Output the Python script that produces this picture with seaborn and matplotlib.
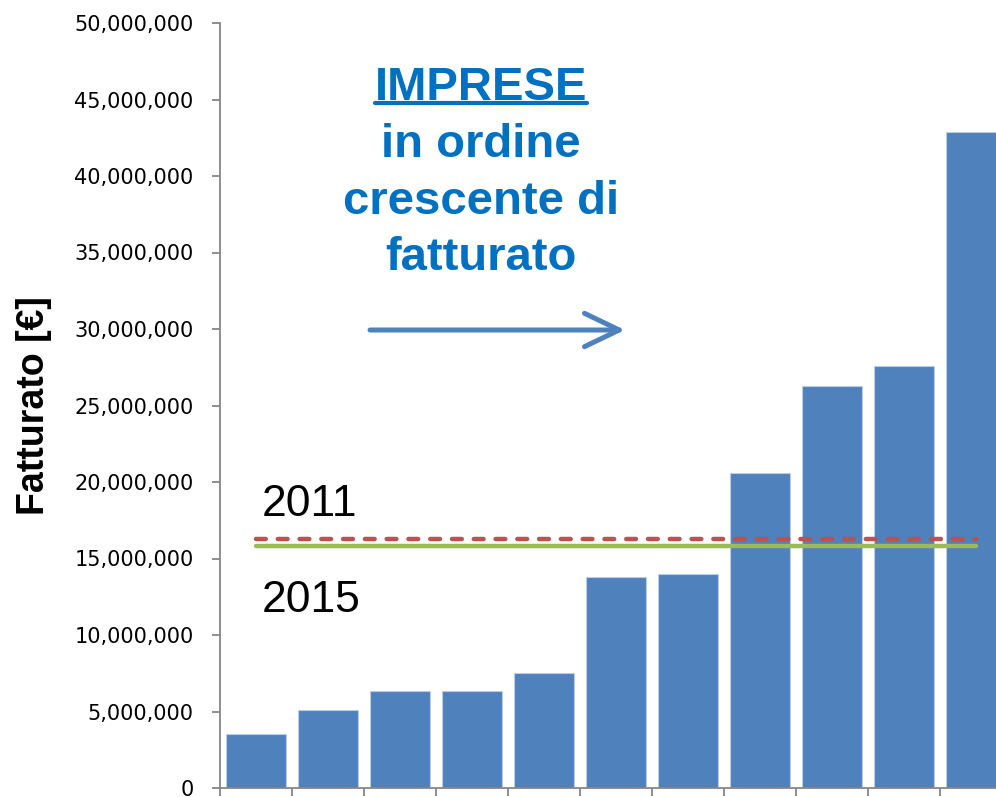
import matplotlib
matplotlib.use("Agg")
import matplotlib.pyplot as plt
import matplotlib.ticker as mticker
from matplotlib.lines import Line2D
import seaborn as sns
import pandas as pd
import numpy as np

# dati
imprese = ["A", "B", "C", "D", "E", "F", "G", "H", "I", "J", "K"]
fatturato = [3.53e6, 5.10e6, 6.34e6, 6.36e6, 7.52e6, 13.80e6, 14.00e6,
             20.57e6, 26.30e6, 27.60e6, 42.86e6]
media_2011 = [16.27e6] * len(imprese)
media_2015 = [15.83e6] * len(imprese)
yticks = np.arange(0, 50_000_001, 5_000_000)

df = pd.DataFrame({"impresa": imprese, "fatturato": fatturato})
df_lines = pd.DataFrame({"impresa": imprese, "m2011": media_2011, "m2015": media_2015})

sns.set_style("white")
plt.rcParams["font.family"] = ["DejaVu Sans"]

fig = plt.figure(figsize=(9.96, 7.97), dpi=100)
ax = fig.add_axes([220 / 996, 9 / 797, 792 / 996, 765 / 797])

sns.barplot(data=df, x="impresa", y="fatturato", color="#4F81BD", width=0.82,
            edgecolor="#b9cde5", linewidth=0.8, saturation=1, ax=ax)

sns.lineplot(data=df_lines, x="impresa", y="m2015", color="#9BBB59", lw=3.2,
             solid_capstyle="round", sort=False, ax=ax)
sns.lineplot(data=df_lines, x="impresa", y="m2011", color="#C0504D", lw=3.2,
             dashes=False, ax=ax, sort=False)
ax.lines[-1].set_dashes((2.2, 2.7))
ax.lines[-1].set_dash_capstyle("round")

ax.set_xlim(-0.5, len(imprese) - 0.5)
ax.set_ylim(0, 50_000_000)
ax.set_yticks(yticks)
ax.yaxis.set_major_formatter(mticker.FuncFormatter(lambda v, p: f"{v:,.0f}"))
ax.set_xticks(np.arange(-0.5, len(imprese), 1))
ax.set_xticklabels([])
ax.tick_params(axis="y", direction="out", length=6, width=1.3, color="#868686",
               pad=13, labelsize=15, labelcolor="black", left=True)
ax.tick_params(axis="x", direction="out", length=6, width=1.3, color="#868686",
               bottom=True)
ax.set_xlabel("")
ax.set_ylabel("Fatturato [€]", fontsize=27, fontweight="bold", color="black",
              family=["Liberation Sans", "DejaVu Sans"])
ax.yaxis.set_label_coords(-0.212, 0.5)

for s in ["top", "right"]:
    ax.spines[s].set_visible(False)
for s in ["left", "bottom"]:
    ax.spines[s].set_color("#868686")
    ax.spines[s].set_linewidth(1.3)

# testo e freccia
blu = "#0070C0"
tf = dict(fontsize=34, fontweight="bold", color=blu, ha="center", va="baseline",
          family=["Liberation Sans", "DejaVu Sans"])
t_imp = fig.text(481 / 996, 1 - 100 / 797, "IMPRESE", **tf)
fig.text(481 / 996, 1 - 157 / 797, "in ordine", **tf)
fig.text(481 / 996, 1 - 214 / 797, "crescente di", **tf)
fig.text(481 / 996, 1 - 270 / 797, "fatturato", **tf)

fig.text(262 / 996, 1 - 516 / 797, "2011", fontsize=32, color="black",
         va="baseline", family=["Liberation Sans", "DejaVu Sans"])
fig.text(262 / 996, 1 - 612 / 797, "2015", fontsize=32, color="black",
         va="baseline", family=["Liberation Sans", "DejaVu Sans"])

ax.annotate("", xy=(625, 797 - 330), xytext=(370, 797 - 330),
            xycoords="figure pixels", textcoords="figure pixels",
            arrowprops=dict(arrowstyle="->,head_length=1.25,head_width=0.6",
                            color="#4F81BD", lw=3.6, mutation_scale=20,
                            capstyle="round", joinstyle="round",
                            shrinkA=0, shrinkB=0))

# sottolineatura di IMPRESE
fig.canvas.draw()
bb = t_imp.get_window_extent()
uy = (797 - 103) / 797
fig.add_artist(Line2D([bb.x0 / 996, bb.x1 / 996], [uy, uy], color=blu, lw=3,
                      transform=fig.transFigure))

fig.savefig("out.png", dpi=100)
